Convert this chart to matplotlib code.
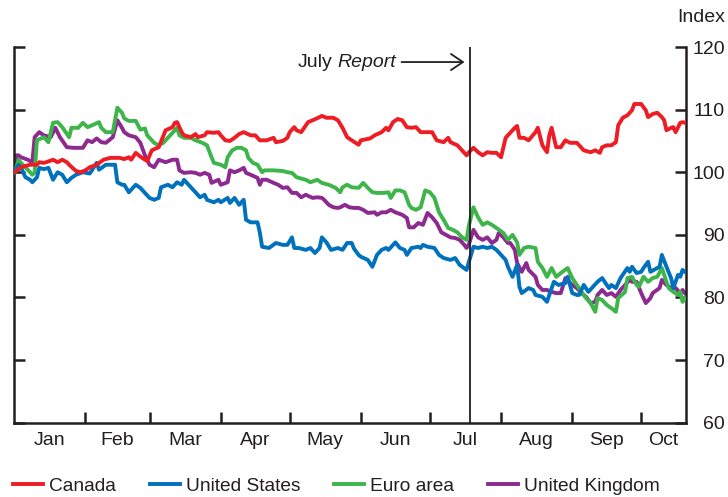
import matplotlib.pyplot as plt

plt.rcParams['font.family'] = ['Liberation Sans', 'DejaVu Sans']
plt.rcParams['font.size'] = 14

TXT = '#231F20'

# day of year (0 = 1 Jan), index value
canada = [(0, 100.0), (1, 100.2), (3, 100.8), (7, 101.2), (10, 101.2), (11, 101.6), (13, 101.5), (14, 101.6),
          (17, 102.0), (19, 101.6), (21, 102.0), (23, 101.6), (24, 101.2), (27, 100.2), (29, 100.0), (31, 100.3),
          (33, 100.8), (36, 101.2), (39, 102.0), (42, 102.3), (46, 102.3), (48, 102.1), (50, 102.4), (51, 102.0),
          (53, 103.1), (55, 102.5), (57, 102.0), (58, 101.8), (60, 103.5), (63, 104.0), (66, 106.7), (69, 107.2),
          (70, 107.9), (71, 108.0), (73, 106.4), (74, 105.9), (77, 105.6), (79, 106.1), (80, 105.6), (83, 105.9),
          (84, 106.4), (87, 106.3), (89, 106.4), (90, 105.9), (92, 105.1), (94, 105.0), (96, 105.5), (98, 106.1),
          (100, 106.4), (103, 105.9), (105, 105.9), (107, 105.1), (110, 105.1), (113, 105.5), (114, 104.8),
          (117, 105.0), (119, 105.5), (120, 106.4), (122, 107.2), (123, 106.7), (125, 106.4), (128, 108.0),
          (130, 108.3), (133, 108.8), (134, 109.0), (136, 108.7), (139, 108.7), (141, 108.3), (143, 107.1),
          (145, 105.6), (147, 105.1), (150, 104.4), (151, 105.1), (155, 105.4), (157, 105.9), (160, 106.4),
          (162, 107.1), (163, 106.7), (165, 108.0), (167, 108.5), (169, 108.3), (171, 107.2), (173, 107.1),
          (175, 107.2), (177, 106.4), (182, 106.4), (184, 105.1), (187, 104.8), (189, 105.5), (190, 104.8),
          (193, 104.3), (195, 103.5), (197, 102.7), (198, 103.2), (200, 103.9), (202, 103.2), (204, 102.7),
          (206, 103.2), (208, 103.1), (210, 103.1), (212, 102.4), (214, 105.5), (216, 106.3), (218, 107.1),
          (219, 107.4), (220, 105.5), (222, 105.5), (224, 105.1), (227, 106.4), (228, 107.1), (230, 104.3),
          (232, 103.2), (233, 105.9), (234, 107.1), (236, 104.0), (238, 104.0), (240, 105.1), (242, 104.7),
          (245, 104.7), (246, 104.3), (248, 103.5), (251, 103.2), (253, 103.5), (255, 103.1), (256, 104.0),
          (258, 104.3), (260, 104.3), (262, 104.8), (263, 107.5), (265, 108.7), (267, 109.1), (269, 109.9),
          (270, 110.9), (272, 110.9), (273, 110.9), (275, 109.9), (276, 108.8), (278, 109.3), (280, 109.5),
          (282, 108.8), (283, 108.3), (284, 106.7), (286, 107.1), (287, 107.2), (288, 106.4), (290, 107.9),
          (291, 108.0), (292, 107.9)]

united_states = [(0, 100.0), (2, 101.2), (3, 100.8), (5, 99.2), (7, 98.8), (8, 98.4), (10, 99.2), (11, 100.7),
                 (13, 100.5), (15, 100.7), (17, 98.8), (19, 100.0), (21, 99.6), (23, 98.4), (25, 99.1), (27, 99.6),
                 (30, 100.0), (33, 99.8), (36, 101.5), (37, 100.4), (40, 101.2), (42, 101.2), (44, 101.2),
                 (45, 98.4), (47, 98.0), (48, 98.0), (50, 96.8), (53, 98.0), (55, 97.5), (57, 96.7), (59, 95.9),
                 (61, 95.6), (63, 95.9), (64, 97.6), (67, 98.0), (69, 97.6), (71, 98.4), (73, 98.0), (74, 98.8),
                 (77, 97.6), (79, 96.8), (81, 96.0), (83, 96.4), (84, 95.6), (87, 95.2), (89, 95.6), (90, 95.2),
                 (93, 95.9), (94, 95.1), (96, 95.9), (98, 94.8), (100, 95.6), (101, 92.4), (103, 92.0),
                 (106, 92.0), (107, 90.4), (108, 88.1), (111, 87.9), (114, 88.7), (117, 88.4), (119, 88.4),
                 (121, 89.6), (122, 87.9), (124, 87.9), (127, 87.6), (129, 87.9), (131, 87.1), (133, 87.9),
                 (134, 89.6), (136, 88.8), (138, 87.6), (141, 87.9), (143, 87.6), (145, 88.7), (147, 88.7),
                 (148, 87.8), (150, 86.8), (151, 86.5), (154, 86.0), (156, 84.9), (158, 86.8), (160, 87.6),
                 (162, 87.9), (163, 87.6), (166, 88.8), (168, 87.9), (170, 87.6), (171, 86.8), (173, 87.9),
                 (176, 88.1), (177, 87.9), (178, 88.4), (180, 88.1), (183, 87.9), (185, 86.8), (187, 86.3),
                 (190, 86.0), (192, 86.3), (194, 85.2), (197, 84.4), (198, 85.7), (200, 88.1), (202, 87.9),
                 (204, 88.1), (206, 87.9), (208, 88.1), (210, 87.6), (212, 86.8), (214, 86.0), (215, 84.9),
                 (217, 83.3), (219, 85.2), (220, 81.7), (221, 80.7), (224, 81.5), (226, 81.2), (227, 80.4),
                 (230, 80.1), (232, 79.3), (233, 80.4), (235, 82.5), (237, 82.0), (240, 82.3), (241, 83.3),
                 (243, 80.7), (245, 80.4), (246, 80.4), (248, 82.0), (250, 80.9), (252, 81.7), (254, 82.5),
                 (256, 83.1), (258, 82.0), (259, 81.5), (260, 82.0), (262, 81.5), (264, 83.1), (267, 84.7),
                 (268, 84.1), (269, 84.9), (271, 83.9), (273, 84.1), (274, 84.7), (276, 85.7), (277, 84.1),
                 (280, 84.7), (281, 84.9), (282, 86.8), (284, 84.9), (286, 83.1), (287, 81.5), (289, 83.6),
                 (290, 83.3), (291, 84.4), (292, 84.1)]

euro_area = [(0, 100.0), (1, 100.7), (2, 102.0), (3, 101.5), (6, 100.4), (8, 99.6), (9, 100.0), (10, 105.1),
             (13, 105.6), (15, 104.8), (17, 107.9), (19, 108.0), (21, 107.2), (24, 105.6), (25, 107.1),
             (28, 107.1), (30, 107.9), (32, 107.2), (34, 107.5), (37, 108.0), (38, 107.1), (40, 106.4),
             (43, 106.4), (45, 110.3), (47, 109.5), (48, 108.6), (50, 108.2), (53, 108.2), (55, 106.8),
             (57, 107.0), (58, 105.9), (61, 104.7), (63, 104.3), (65, 104.7), (67, 105.5), (69, 106.3),
             (71, 107.1), (72, 105.9), (74, 105.5), (77, 105.5), (79, 105.1), (82, 104.7), (84, 104.3),
             (86, 102.4), (87, 101.5), (90, 101.2), (92, 100.8), (93, 102.4), (95, 103.5), (97, 103.9),
             (99, 103.9), (101, 103.5), (102, 102.3), (104, 101.5), (106, 101.2), (108, 100.0), (109, 100.3),
             (113, 100.3), (117, 100.2), (119, 100.0), (121, 99.9), (123, 99.2), (127, 98.8), (129, 98.4),
             (132, 98.8), (134, 98.3), (137, 98.0), (140, 97.5), (142, 96.8), (143, 97.6), (145, 98.0),
             (147, 97.6), (150, 97.5), (152, 98.3), (154, 97.5), (156, 96.8), (158, 96.7), (161, 96.7),
             (163, 96.8), (164, 95.9), (166, 97.1), (168, 97.1), (170, 96.8), (172, 94.8), (173, 94.3),
             (175, 94.0), (177, 94.4), (179, 97.1), (181, 96.8), (183, 95.9), (185, 93.6), (187, 92.4),
             (189, 91.1), (191, 90.8), (193, 90.4), (195, 89.6), (197, 89.2), (198, 91.5), (200, 94.4),
             (202, 92.8), (204, 91.6), (206, 92.0), (208, 91.6), (210, 91.1), (213, 90.3), (215, 89.2),
             (217, 90.0), (219, 88.8), (220, 86.8), (222, 87.9), (224, 88.1), (227, 87.9), (228, 85.7),
             (230, 84.7), (232, 83.3), (234, 84.7), (236, 83.3), (238, 83.9), (241, 84.7), (243, 83.1),
             (245, 82.0), (247, 80.9), (249, 79.9), (251, 79.1), (253, 77.7), (254, 79.9), (256, 79.6),
             (258, 78.8), (260, 78.3), (262, 77.7), (263, 79.9), (266, 80.9), (267, 83.1), (269, 83.3),
             (271, 82.0), (272, 81.7), (274, 83.3), (276, 82.5), (278, 83.1), (280, 83.3), (282, 84.7),
             (284, 82.5), (285, 81.5), (287, 80.9), (289, 80.4), (290, 80.9), (291, 79.3), (292, 79.9)]

united_kingdom = [(0, 100.0), (1, 102.7), (2, 102.7), (3, 102.4), (6, 102.0), (8, 101.6), (9, 105.6), (11, 106.4),
                  (13, 105.9), (16, 105.6), (18, 107.1), (20, 105.6), (23, 104.0), (26, 103.9), (30, 103.9),
                  (32, 105.1), (34, 104.8), (36, 105.4), (38, 104.8), (40, 104.7), (43, 105.6), (45, 108.3),
                  (47, 107.1), (48, 106.4), (50, 105.9), (53, 105.6), (55, 104.7), (57, 102.7), (59, 101.2),
                  (61, 100.8), (63, 102.0), (66, 101.6), (69, 102.0), (71, 102.0), (72, 100.3), (74, 99.9),
                  (77, 100.0), (79, 99.9), (81, 99.6), (83, 99.9), (85, 99.6), (86, 98.3), (89, 98.8), (90, 98.0),
                  (93, 98.4), (94, 100.3), (96, 100.0), (98, 100.3), (100, 100.7), (101, 99.9), (103, 99.6),
                  (106, 99.1), (107, 98.0), (108, 98.8), (110, 98.8), (113, 98.3), (115, 98.0), (117, 97.5),
                  (119, 97.6), (121, 96.7), (123, 96.7), (125, 96.0), (127, 96.4), (130, 95.9), (132, 96.0),
                  (134, 95.9), (135, 95.6), (137, 94.8), (139, 94.4), (141, 94.3), (142, 94.4), (144, 94.8),
                  (146, 94.4), (148, 94.3), (150, 94.3), (152, 94.0), (154, 93.5), (157, 93.6), (158, 93.2),
                  (160, 93.6), (162, 93.6), (164, 94.0), (166, 93.6), (169, 93.2), (171, 92.7), (172, 91.2),
                  (174, 91.2), (176, 91.9), (178, 91.6), (180, 93.5), (182, 92.8), (184, 91.9), (186, 90.4),
                  (188, 90.0), (190, 89.6), (192, 89.5), (194, 89.2), (196, 88.4), (197, 87.9), (198, 88.5),
                  (200, 90.8), (202, 89.6), (204, 89.2), (206, 89.6), (208, 88.7), (210, 89.2), (211, 90.3),
                  (213, 89.6), (215, 88.7), (216, 88.7), (218, 87.6), (219, 85.5), (221, 84.1), (223, 85.5),
                  (224, 84.4), (227, 83.3), (228, 82.0), (230, 81.2), (232, 81.2), (234, 80.9), (236, 80.7),
                  (238, 80.7), (240, 83.1), (243, 82.0), (245, 81.5), (247, 80.7), (249, 80.1), (251, 79.1),
                  (253, 79.3), (254, 80.4), (256, 81.2), (258, 80.4), (260, 80.7), (262, 80.1), (264, 81.2),
                  (266, 82.0), (268, 82.8), (269, 82.5), (271, 82.5), (273, 80.7), (275, 79.1), (277, 79.9),
                  (278, 80.7), (281, 81.5), (282, 82.8), (284, 82.0), (286, 81.5), (288, 81.5), (290, 80.7),
                  (291, 81.2), (292, 80.7)]

month_starts = [0, 31, 59, 90, 120, 151, 181, 212, 243, 273]
month_names = ['Jan', 'Feb', 'Mar', 'Apr', 'May', 'Jun', 'Jul', 'Aug', 'Sep', 'Oct']
x_end = 292.5
report_day = 198.7

series = [
    ('Canada', canada, '#EE1D25', 5),
    ('United States', united_states, '#0071BC', 4),
    ('Euro area', euro_area, '#3DB54A', 3),
    ('United Kingdom', united_kingdom, '#8D2A90', 2),
]

fig = plt.figure(figsize=(7.28, 4.97), dpi=100)
ax = fig.add_axes([0.0192, 0.1495, 0.9231, 0.7559])

for name, pts, col, z in series:
    days = [p[0] for p in pts]
    vals = [p[1] for p in pts]
    ax.plot(days, vals, color=col, lw=2.8, label=name, zorder=z, solid_joinstyle='round')

ax.axvline(report_day, color=TXT, lw=1.3, zorder=6)

ax.set_xlim(0, x_end)
ax.set_ylim(60, 120)

ax.spines['top'].set_visible(False)
for s in ['left', 'right', 'bottom']:
    ax.spines[s].set_linewidth(1.8)
    ax.spines[s].set_color(TXT)

# y axis: ticks on both sides, labels on the right only
ax.set_yticks(range(60, 121, 10))
ax.tick_params(axis='y', left=True, right=True, labelleft=False, labelright=True,
               direction='in', length=8, width=1.8, pad=28, colors=TXT)
plt.setp(ax.yaxis.get_majorticklabels(), ha='right')

# x axis: ticks at month starts, names centred in each month
mids = []
for i, st in enumerate(month_starts):
    en = month_starts[i + 1] if i + 1 < len(month_starts) else x_end
    mids.append((st + en) / 2)
ax.set_xticks(month_starts[1:])
ax.set_xticklabels([])
ax.set_xticks(mids, minor=True)
ax.set_xticklabels(month_names, minor=True)
ax.tick_params(axis='x', which='major', direction='in', length=8, width=1.8, colors=TXT)
ax.tick_params(axis='x', which='minor', length=0, pad=7, colors=TXT)

# July Report marker
ax.annotate('', xy=(196.1, 117.6), xytext=(168.7, 117.6),
            arrowprops=dict(arrowstyle='->,head_length=0.86,head_width=0.58', lw=1.3,
                            color=TXT, shrinkA=0, shrinkB=0, mutation_scale=10))
rep = ax.text(166.5, 117.6, 'Report', style='italic', ha='right', va='center', color=TXT)
ax.annotate('July', xy=(0, 0.5), xycoords=rep, xytext=(-4, 0), textcoords='offset points',
            ha='right', va='center', color=TXT)

fig.text(725 / 728, 1 - 18 / 497, 'Index', ha='right', va='center', color=TXT)

fig.legend(loc='center left', bbox_to_anchor=(13 / 728, 1 - 486 / 497), ncol=4, frameon=False,
           fontsize=13.75, handlelength=1.57, handletextpad=0.315, columnspacing=1.77,
           borderpad=0, borderaxespad=0, labelcolor=TXT)

fig.savefig('out.png', dpi=100)
